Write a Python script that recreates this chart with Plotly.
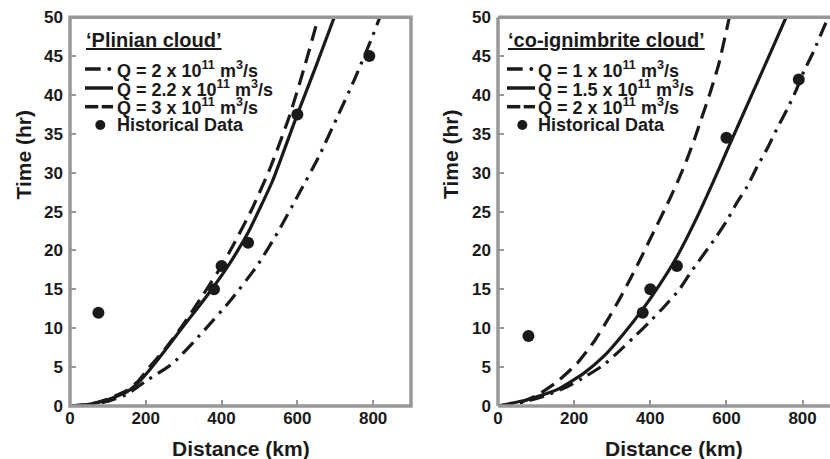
import plotly.graph_objects as go

# ---------------- data ----------------
# 'Plinian cloud' panel
pl_q2_x = [0, 50, 100, 150, 180, 200, 272, 350, 424, 492, 548, 603, 656, 704, 750, 793, 818, 850]
pl_q2_y = [0, 0.15, 0.6, 1.5, 2.5, 3.2, 5.5, 9.5, 13.6, 17.9, 22.3, 27.2, 32.0, 37.0, 41.9, 46.9, 50.0, 54.0]
pl_q22_x = [0, 50, 100, 150, 180, 211, 250, 295, 340, 380, 425, 470, 535, 600, 650, 699, 712]
pl_q22_y = [0, 0.2, 0.8, 1.8, 3.0, 4.7, 7.1, 10.0, 12.8, 15.4, 18.6, 22.3, 29.0, 37.5, 43.8, 50.2, 51.8]
pl_q3_x = [0, 50, 100, 150, 180, 208, 250, 292, 350, 400, 431, 480, 530, 580, 620, 655, 668]
pl_q3_y = [0, 0.2, 0.9, 2.0, 3.2, 4.9, 7.3, 10.0, 14.2, 18.0, 20.7, 25.3, 30.8, 37.4, 43.8, 49.9, 52.3]
pl_hist_x = [75, 380, 400, 470, 600, 790]
pl_hist_y = [12, 15, 18, 21, 37.5, 45]

# 'co-ignimbrite cloud' panel
ci_q1_x = [0, 67, 129, 183, 230, 278, 317, 358, 400, 437, 475, 505, 571, 602, 628, 654, 682, 707, 733, 759, 783, 803, 829, 855, 872]
ci_q1_y = [0, 0.5, 1.4, 2.5, 3.8, 5.3, 7.0, 8.9, 10.9, 12.8, 14.9, 17.1, 21.6, 23.9, 26.2, 28.2, 30.9, 33.1, 35.7, 38.1, 40.6, 43.0, 45.6, 48.6, 50.4]
ci_q15_x = [0, 77, 155, 225, 278, 330, 378, 426, 470, 520, 565, 610, 660, 710, 755, 768]
ci_q15_y = [0, 0.8, 2.1, 4.2, 6.4, 9.3, 12.3, 15.7, 19.2, 24.0, 28.8, 33.8, 39.3, 44.8, 49.8, 51.2]
ci_q2_x = [0, 55, 103, 155, 208, 251, 287, 321, 348, 378, 409, 448, 475, 497, 518, 536, 558, 580, 601, 612]
ci_q2_y = [0, 0.4, 1.4, 3.1, 5.5, 8.2, 11.0, 13.9, 16.4, 19.3, 22.4, 26.3, 29.2, 31.8, 34.6, 37.2, 40.4, 44.0, 48.5, 51.0]
ci_hist_x = [80, 380, 400, 470, 600, 790]
ci_hist_y = [9, 12, 15, 18, 34.5, 42]

x_ticks = [0, 200, 400, 600, 800]
y_ticks = [0, 5, 10, 15, 20, 25, 30, 35, 40, 45, 50]

pl_title = "‘Plinian cloud’"
ci_title = "‘co-ignimbrite cloud’"
pl_labels = ["Q = 2 x 10<sup>11</sup> m<sup>3</sup>/s",
             "Q = 2.2 x 10<sup>11</sup> m<sup>3</sup>/s",
             "Q = 3 x 10<sup>11</sup> m<sup>3</sup>/s",
             "Historical Data"]
ci_labels = ["Q = 1 x 10<sup>11</sup> m<sup>3</sup>/s",
             "Q = 1.5 x 10<sup>11</sup> m<sup>3</sup>/s",
             "Q = 2 x 10<sup>11</sup> m<sup>3</sup>/s",
             "Historical Data"]

# ---------------- layout helpers ----------------
W, H = 830, 459
FONT = "Liberation Sans, Arial, sans-serif"
INK = "#1a1a1a"
GRAY = "#989898"


def px(x):
    return x / W


def py(y):
    return 1 - y / H


DASH = "15px,8px"
DASHDOT = "15px,7px,3px,7px"

fig = go.Figure()


def add_curve(xs, ys, dash, xa, ya):
    fig.add_trace(go.Scatter(x=xs, y=ys, mode="lines", xaxis=xa, yaxis=ya,
                             line=dict(color=INK, width=3.2, dash=dash,
                                       shape="spline", smoothing=0.5),
                             showlegend=False, hoverinfo="skip"))


def add_points(xs, ys, xa, ya):
    fig.add_trace(go.Scatter(x=xs, y=ys, mode="markers", xaxis=xa, yaxis=ya,
                             marker=dict(color=INK, size=12),
                             showlegend=False, hoverinfo="skip"))


add_curve(pl_q2_x, pl_q2_y, DASHDOT, "x", "y")
add_curve(pl_q22_x, pl_q22_y, "solid", "x", "y")
add_curve(pl_q3_x, pl_q3_y, DASH, "x", "y")
add_points(pl_hist_x, pl_hist_y, "x", "y")

add_curve(ci_q1_x, ci_q1_y, DASHDOT, "x2", "y2")
add_curve(ci_q15_x, ci_q15_y, "solid", "x2", "y2")
add_curve(ci_q2_x, ci_q2_y, DASH, "x2", "y2")
add_points(ci_hist_x, ci_hist_y, "x2", "y2")

tickfont = dict(family=FONT, size=17, color=INK, weight="bold")
ydom = [py(406), py(17.2)]
common_x = dict(tickvals=x_ticks, ticks="inside", ticklen=6, tickwidth=1.5,
                tickcolor=GRAY, showgrid=False, zeroline=False, showline=False,
                tickfont=tickfont, fixedrange=True, automargin=False)
common_y = dict(tickvals=y_ticks, range=[0, 50], ticks="inside", ticklen=6,
                tickwidth=1.5, tickcolor=GRAY, showgrid=False, zeroline=False,
                showline=False, tickfont=tickfont, fixedrange=True,
                ticklabelstandoff=6, automargin=False)

fig.update_layout(
    template="none",
    width=W, height=H, margin=dict(l=0, r=0, t=0, b=0, autoexpand=False),
    paper_bgcolor="white", plot_bgcolor="white", showlegend=False,
    xaxis=dict(domain=[px(70), px(411)], range=[0, 900], anchor="y", **common_x),
    yaxis=dict(domain=ydom, anchor="x", **common_y),
    xaxis2=dict(domain=[px(498), 1.0], range=[0, 872], anchor="y2", **common_x),
    yaxis2=dict(domain=ydom, anchor="x2", **common_y),
)

# frames (centered on plot edges)
fl = dict(color=GRAY, width=3.5)
shapes = [
    dict(type="rect", xref="x domain", yref="y domain", x0=0, x1=1, y0=0, y1=1,
         line=fl, layer="above"),
    dict(type="line", xref="x2 domain", yref="y2 domain", x0=0, x1=0, y0=0, y1=1,
         line=fl, layer="above"),
    dict(type="line", xref="x2 domain", yref="y2 domain", x0=0, x1=1.05, y0=0, y1=0,
         line=fl, layer="above"),
    dict(type="line", xref="x2 domain", yref="y2 domain", x0=0, x1=1.05, y0=1, y1=1,
         line=fl, layer="above"),
]

annotations = []


def text(x, y, s, size, anchor="left", angle=0, underline=False):
    f = dict(family=FONT, size=size, color=INK, weight="bold")
    if underline:
        f["lineposition"] = "under"
    annotations.append(dict(x=px(x), y=py(y), xref="paper", yref="paper", text=s,
                            showarrow=False, xanchor=anchor, yanchor="middle",
                            textangle=angle, font=f))


# axis titles
text(240.8, 448, "Distance (km)", 21, anchor="center")
text(674, 448, "Distance (km)", 21, anchor="center")
text(22.5, 155, "Time (hr)", 21, anchor="center", angle=-90)
text(450, 155, "Time (hr)", 21, anchor="center", angle=-90)

# legends (drawn as text + glyphs)
rows = [69, 88, 106.7, 125]


def legend(x_sym, x_txt, title, labels):
    text(x_sym - 1, 40, title, 20, underline=True)
    for r, lab in zip(rows, labels):
        text(x_txt - 2, r, lab, 18)
    lw = dict(color=INK, width=3.5)
    # dash-dot glyph
    shapes.append(dict(type="line", xref="paper", yref="paper", x0=px(x_sym), x1=px(x_sym + 15.7),
                       y0=py(rows[0]), y1=py(rows[0]), line=lw))
    shapes.append(dict(type="circle", xref="paper", yref="paper", x0=px(x_sym + 22.3), x1=px(x_sym + 26.3),
                       y0=py(rows[0] + 2), y1=py(rows[0] - 2), line=dict(width=0), fillcolor=INK))
    # solid glyph
    shapes.append(dict(type="line", xref="paper", yref="paper", x0=px(x_sym), x1=px(x_sym + 28),
                       y0=py(rows[1]), y1=py(rows[1]), line=lw))
    # dashed glyph
    shapes.append(dict(type="line", xref="paper", yref="paper", x0=px(x_sym), x1=px(x_sym + 13.3),
                       y0=py(rows[2]), y1=py(rows[2]), line=lw))
    shapes.append(dict(type="line", xref="paper", yref="paper", x0=px(x_sym + 16.7), x1=px(x_sym + 28),
                       y0=py(rows[2]), y1=py(rows[2]), line=lw))
    # marker glyph
    cx = x_sym + 15.3
    shapes.append(dict(type="circle", xref="paper", yref="paper", x0=px(cx - 5), x1=px(cx + 5),
                       y0=py(rows[3] + 5), y1=py(rows[3] - 5), line=dict(width=0), fillcolor=INK))


legend(85, 116.7, pl_title, pl_labels)
legend(507, 538.3, ci_title, ci_labels)

fig.update_layout(shapes=shapes, annotations=annotations)
fig.write_html(
    "out.html",
    config={"displayModeBar": False},
    post_script="document.body.style.margin='0';document.body.style.overflow='hidden';",
)
